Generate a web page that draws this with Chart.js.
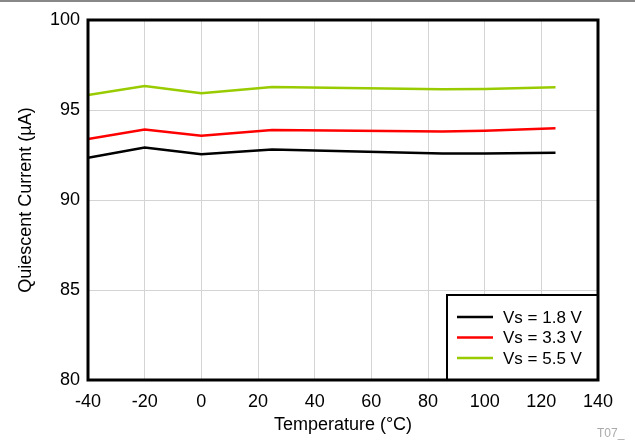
<!DOCTYPE html>
<html>
<head>
<meta charset="utf-8">
<script src="https://cdn.jsdelivr.net/npm/chart.js@4"></script>
<style>
html,body{margin:0;padding:0;background:#fff;}
#wrap{position:relative;width:635px;height:441px;}
canvas{display:block;}
</style>
</head>
<body>
<div id="wrap"><canvas id="c" width="635" height="441"></canvas></div>
<script>
const temperatures = [-40, -20, 0, 25, 85, 100, 125];
const vs18 = [92.35, 92.91, 92.54, 92.81, 92.59, 92.59, 92.63];
const vs33 = [93.39, 93.91, 93.57, 93.89, 93.80, 93.85, 93.98];
const vs55 = [95.83, 96.33, 95.93, 96.28, 96.15, 96.17, 96.26];
const seriesLabels = ['Vs = 1.8 V', 'Vs = 3.3 V', 'Vs = 5.5 V'];
const seriesColors = ['#000000', '#ff0000', '#99cc00'];
const xTicks = [-40, -20, 0, 20, 40, 60, 80, 100, 120, 140];
const yTicks = [80, 85, 90, 95, 100];

const FONT = '"Liberation Sans", Arial, sans-serif';

function pts(vals){ return temperatures.map((t,i)=>({x:t,y:vals[i]})); }

const decor = {
  id:'decor',
  afterDraw(chart){
    const ctx = chart.ctx, a = chart.chartArea;
    ctx.save();
    // top grey rule
    ctx.fillStyle = '#888888';
    ctx.fillRect(0, 0, chart.width, 2);
    // legend box (bottom-right corner inside plot)
    const bx = 447, by = 295, bw = a.right - bx, bh = a.bottom - by;
    ctx.fillStyle = '#ffffff';
    ctx.fillRect(bx, by, bw, bh);
    ctx.strokeStyle = '#000';
    ctx.lineWidth = 2;
    ctx.strokeRect(bx, by, bw, bh);
    ctx.font = '17px ' + FONT;
    ctx.textBaseline = 'middle';
    ctx.textAlign = 'left';
    chart.data.datasets.forEach((ds, i) => {
      const y = 317 + i * 20.5;
      ctx.strokeStyle = ds.borderColor;
      ctx.lineWidth = 2.5;
      ctx.beginPath();
      ctx.moveTo(457, y);
      ctx.lineTo(493, y);
      ctx.stroke();
      ctx.fillStyle = '#000';
      ctx.fillText(ds.label, 503, y + 1);
    });
    // plot border
    ctx.strokeStyle = '#000';
    ctx.lineWidth = 3;
    ctx.strokeRect(a.left, a.top, a.right - a.left, a.bottom - a.top);
    // footnote
    ctx.fillStyle = '#aaaaaa';
    ctx.font = '12px ' + FONT;
    ctx.textAlign = 'left';
    ctx.fillText('T07_', 597, 434);
    ctx.restore();
  }
};

new Chart(document.getElementById('c'), {
  type: 'line',
  data: {
    datasets: [
      {label: seriesLabels[0], data: pts(vs18), borderColor: seriesColors[0]},
      {label: seriesLabels[1], data: pts(vs33), borderColor: seriesColors[1]},
      {label: seriesLabels[2], data: pts(vs55), borderColor: seriesColors[2]}
    ].map(d => Object.assign(d, {borderWidth: 2.5, pointRadius: 0, tension: 0, fill: false}))
  },
  options: {
    responsive: false,
    animation: false,
    layout: {padding: {left: 0, top: 20, right: 37, bottom: 0}},
    plugins: {legend: {display: false}, tooltip: {enabled: false}},
    scales: {
      x: {
        type: 'linear', min: -40, max: 140,
        afterBuildTicks(s){ s.ticks = xTicks.map(v => ({value: v})); },
        afterFit(s){ s.height = 61; },
        grid: {color: '#d4d4d4', lineWidth: 1, drawTicks: false},
        border: {display: false},
        ticks: {color: '#000', font: {family: FONT, size: 18}, padding: 11, maxRotation: 0, autoSkip: false},
        title: {display: true, text: 'Temperature (°C)', color: '#000', font: {family: FONT, size: 18}, padding: {top: 0, bottom: 5}}
      },
      y: {
        min: 80, max: 100,
        afterBuildTicks(s){ s.ticks = yTicks.map(v => ({value: v})); },
        afterFit(s){ s.width = 88; },
        grid: {color: '#d4d4d4', lineWidth: 1, drawTicks: false},
        border: {display: false},
        ticks: {color: '#000', font: {family: FONT, size: 18}, padding: 8},
        title: {display: true, text: 'Quiescent Current (µA)', color: '#000', font: {family: FONT, size: 18}, padding: {top: 15, bottom: 0}}
      }
    }
  },
  plugins: [decor]
});
</script>
</body>
</html>
